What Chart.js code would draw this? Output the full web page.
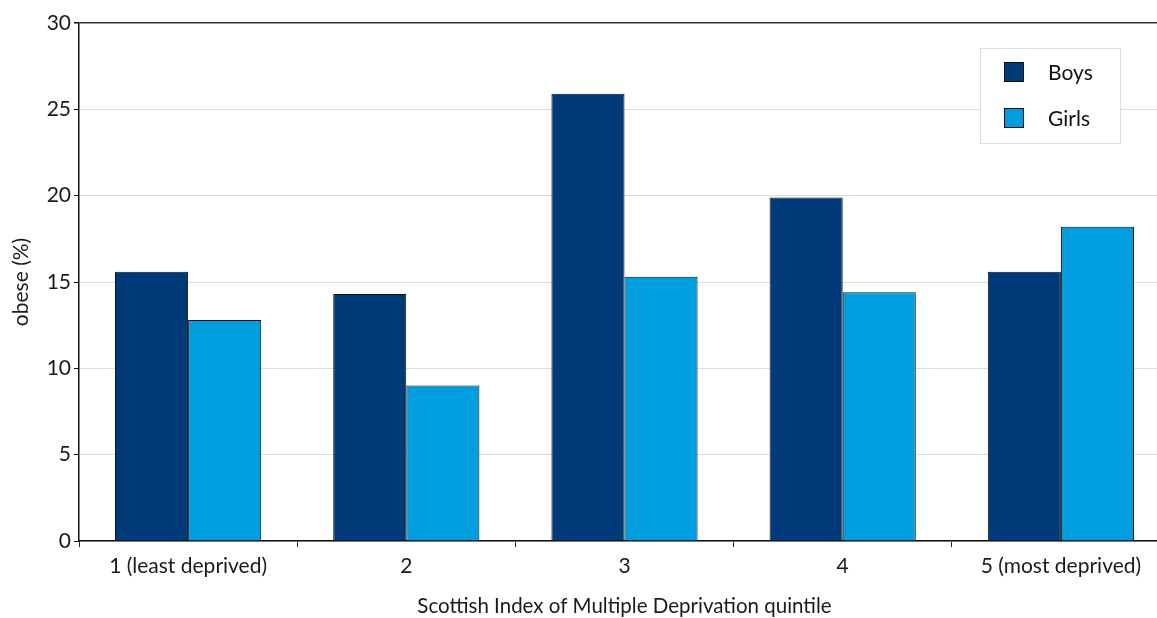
<!DOCTYPE html>
<html>
<head>
<meta charset="utf-8">
<script src="https://cdn.jsdelivr.net/npm/chart.js@4"></script>
<style>
  html, body { margin: 0; padding: 0; background: #fff; overflow: hidden; }
  #wrap { width: 1170px; height: 618px; }
</style>
</head>
<body>
<div id="wrap"><canvas id="chart" width="1170" height="618"></canvas></div>
<script>
const categories = ['1 (least deprived)', '2', '3', '4', '5 (most deprived)'];
const boys = [15.6, 14.3, 25.9, 19.9, 15.6];
const girls = [12.8, 9.0, 15.3, 14.4, 18.2];
const yTicks = [0, 5, 10, 15, 20, 25, 30];

const FONT = 'Lato, "Open Sans", sans-serif';

// legend box drawn inside the plot, top right
const boxLegend = {
    id: 'boxLegend',
    afterDraw(chart) {
        const ctx = chart.ctx;
        const x = 980.5, y = 48.5, w = 140, h = 95;
        ctx.save();
        ctx.fillStyle = '#fff';
        ctx.fillRect(x, y, w, h);
        ctx.strokeStyle = '#ddd';
        ctx.lineWidth = 1;
        ctx.strokeRect(x, y, w, h);
        ctx.font = '21px ' + FONT;
        ctx.textBaseline = 'middle';
        chart.data.datasets.forEach((ds, i) => {
            const cy = 72 + i * 46;
            ctx.fillStyle = ds.backgroundColor;
            ctx.fillRect(1004.5, cy - 9.5, 19, 19);
            ctx.strokeStyle = '#111';
            ctx.strokeRect(1004.5, cy - 9.5, 19, 19);
            ctx.fillStyle = '#111';
            ctx.fillText(ds.label, 1048, cy + 1);
        });
        ctx.restore();
    }
};

new Chart(document.getElementById('chart'), {
    type: 'bar',
    data: {
        labels: categories,
        datasets: [
            { label: 'Boys', data: boys, backgroundColor: '#003a78', borderColor: '#111', borderWidth: 1 },
            { label: 'Girls', data: girls, backgroundColor: '#009ddf', borderColor: '#111', borderWidth: 1 }
        ]
    },
    options: {
        responsive: false,
        animation: false,
        layout: { padding: { top: 23, left: 0, right: 0, bottom: 0 } },
        datasets: { bar: { categoryPercentage: 0.67, barPercentage: 1 } },
        plugins: { legend: { display: false }, tooltip: { enabled: false } },
        scales: {
            x: {
                grid: { drawOnChartArea: false, color: '#222', tickLength: 6, offset: true },
                border: { color: '#111', width: 1.5 },
                ticks: { color: '#1a1a1a', font: { family: FONT, size: 21 }, padding: 7, maxRotation: 0 },
                title: { display: true, text: 'Scottish Index of Multiple Deprivation quintile', color: '#1a1a1a', font: { family: FONT, size: 20.5 }, padding: { top: 14, bottom: -1 } },
                afterFit: (scale) => { scale.height = 77; }
            },
            y: {
                min: 0, max: 30,
                afterBuildTicks: (scale) => { scale.ticks = yTicks.map(v => ({ value: v })); },
                grid: {
                    color: (c) => c.tick && c.tick.value === 30 ? '#333' : '#dcdcdc',
                    lineWidth: (c) => c.tick && c.tick.value === 30 ? 1.5 : 1,
                    tickColor: '#111', tickLength: 5
                },
                border: { color: '#111', width: 1.5 },
                ticks: { color: '#1a1a1a', font: { family: FONT, size: 21 }, padding: 3 },
                title: { display: true, text: 'obese (%)', color: '#1a1a1a', font: { family: FONT, size: 21 }, padding: { top: 9, bottom: 0 } },
                afterFit: (scale) => { scale.width = 79; }
            }
        }
    },
    plugins: [boxLegend]
});
</script>
</body>
</html>
